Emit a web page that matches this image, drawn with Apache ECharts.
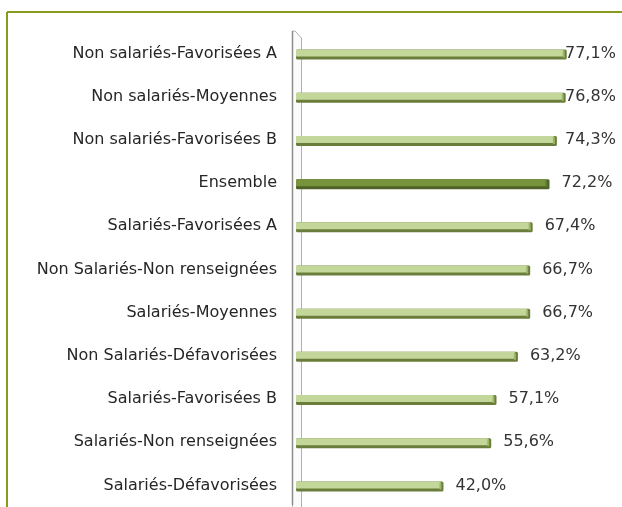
<!DOCTYPE html>
<html><head><meta charset="utf-8">
<script src="https://cdn.jsdelivr.net/npm/echarts@6/dist/echarts.min.js"></script>
<style>html,body{margin:0;padding:0;background:#fff}#c{width:622px;height:507px}</style>
</head><body><div id="c"></div>
<script>
const categories = [
  "Non salariés-Favorisées A",
  "Non salariés-Moyennes",
  "Non salariés-Favorisées B",
  "Ensemble",
  "Salariés-Favorisées A",
  "Non Salariés-Non renseignées",
  "Salariés-Moyennes",
  "Non Salariés-Défavorisées",
  "Salariés-Favorisées B",
  "Salariés-Non renseignées",
  "Salariés-Défavorisées"
];
const values = [77.1, 76.8, 74.3, 72.2, 67.4, 66.7, 66.7, 63.2, 57.1, 55.6, 42.0];
const highlight = "Ensemble";

const FONT = "DejaVu Sans";
const chart = echarts.init(document.getElementById('c'));
const GL = 296, GT = 32, GB = 0;

const barData = values.map((v, i) => [v, i]);

chart.setOption({
  animation: false,
  grid: {left: GL, right: 10, top: GT, bottom: GB, containLabel: false},
  xAxis: {type: 'value', min: 0, max: 90, show: false},
  yAxis: {
    type: 'category', data: categories, inverse: true,
    axisLine: {show: false}, axisTick: {show: false},
    axisLabel: {color: '#262626', fontFamily: FONT, fontSize: 16, margin: 19}
  },
  graphic: [
    {type: 'line', shape: {x1: 7, y1: 12, x2: 622, y2: 12}, style: {stroke: '#8a9a1c', lineWidth: 2}, z: 10},
    {type: 'line', shape: {x1: 7, y1: 12, x2: 7, y2: 507}, style: {stroke: '#8a9a1c', lineWidth: 2}, z: 10},
    {type: 'polyline', shape: {points: [[292.5, 507], [292.5, 31], [295, 31], [301.5, 38], [301.5, 507]]}, style: {stroke: '#b0b0b0', fill: '#fbfbfb', lineWidth: 1}, z: 0},
    {type: 'line', shape: {x1: 292.5, y1: 31, x2: 292.5, y2: 505}, style: {stroke: '#8c8c8c', lineWidth: 1.5}, z: 1}
  ],
  series: [
    {
      type: 'custom',
      coordinateSystem: 'cartesian2d',
      encode: {x: 0, y: 1},
      data: barData,
      z: 5,
      renderItem: function (params, api) {
        const v = api.value(0), c = api.value(1);
        const end = api.coord([v, c]);
        const start = api.coord([0, c]);
        const isHi = categories[c] === highlight;
        const light = isHi ? '#77933c' : '#c4d79b';
        const dark = isHi ? '#4f6228' : '#6a7d3a';
        const cap = isHi ? '#5e7530' : '#9cb667';
        const y0 = end[1] - 4, h = 10;
        const x0 = start[0], w = end[0] - x0;
        return {
          type: 'group',
          children: [
            {type: 'rect', shape: {x: x0, y: y0, width: w, height: h, r: 1.5}, style: {fill: dark}},
            {type: 'rect', shape: {x: x0, y: y0, width: w - 3, height: h - 3}, style: {fill: light}},
            {type: 'rect', shape: {x: x0 + w - 4, y: y0 + 1, width: 2, height: h - 3}, style: {fill: cap}}
          ]
        };
      }
    },
    {
      type: 'bar',
      data: values,
      barWidth: 10,
      itemStyle: {color: 'rgba(0,0,0,0)'},
      z: 6,
      label: {
        show: true, position: 'right', distance: 12,
        formatter: p => p.value.toFixed(1).replace('.', ',') + '%',
        color: '#333', fontFamily: FONT, fontSize: 16
      },
      labelLayout: function (p) {
        const x = Math.min(p.rect.x + p.rect.width + 12, 565);
        return {x: x, y: p.rect.y + p.rect.height / 2, align: 'left', verticalAlign: 'middle'};
      }
    }
  ]
});
</script></body></html>
